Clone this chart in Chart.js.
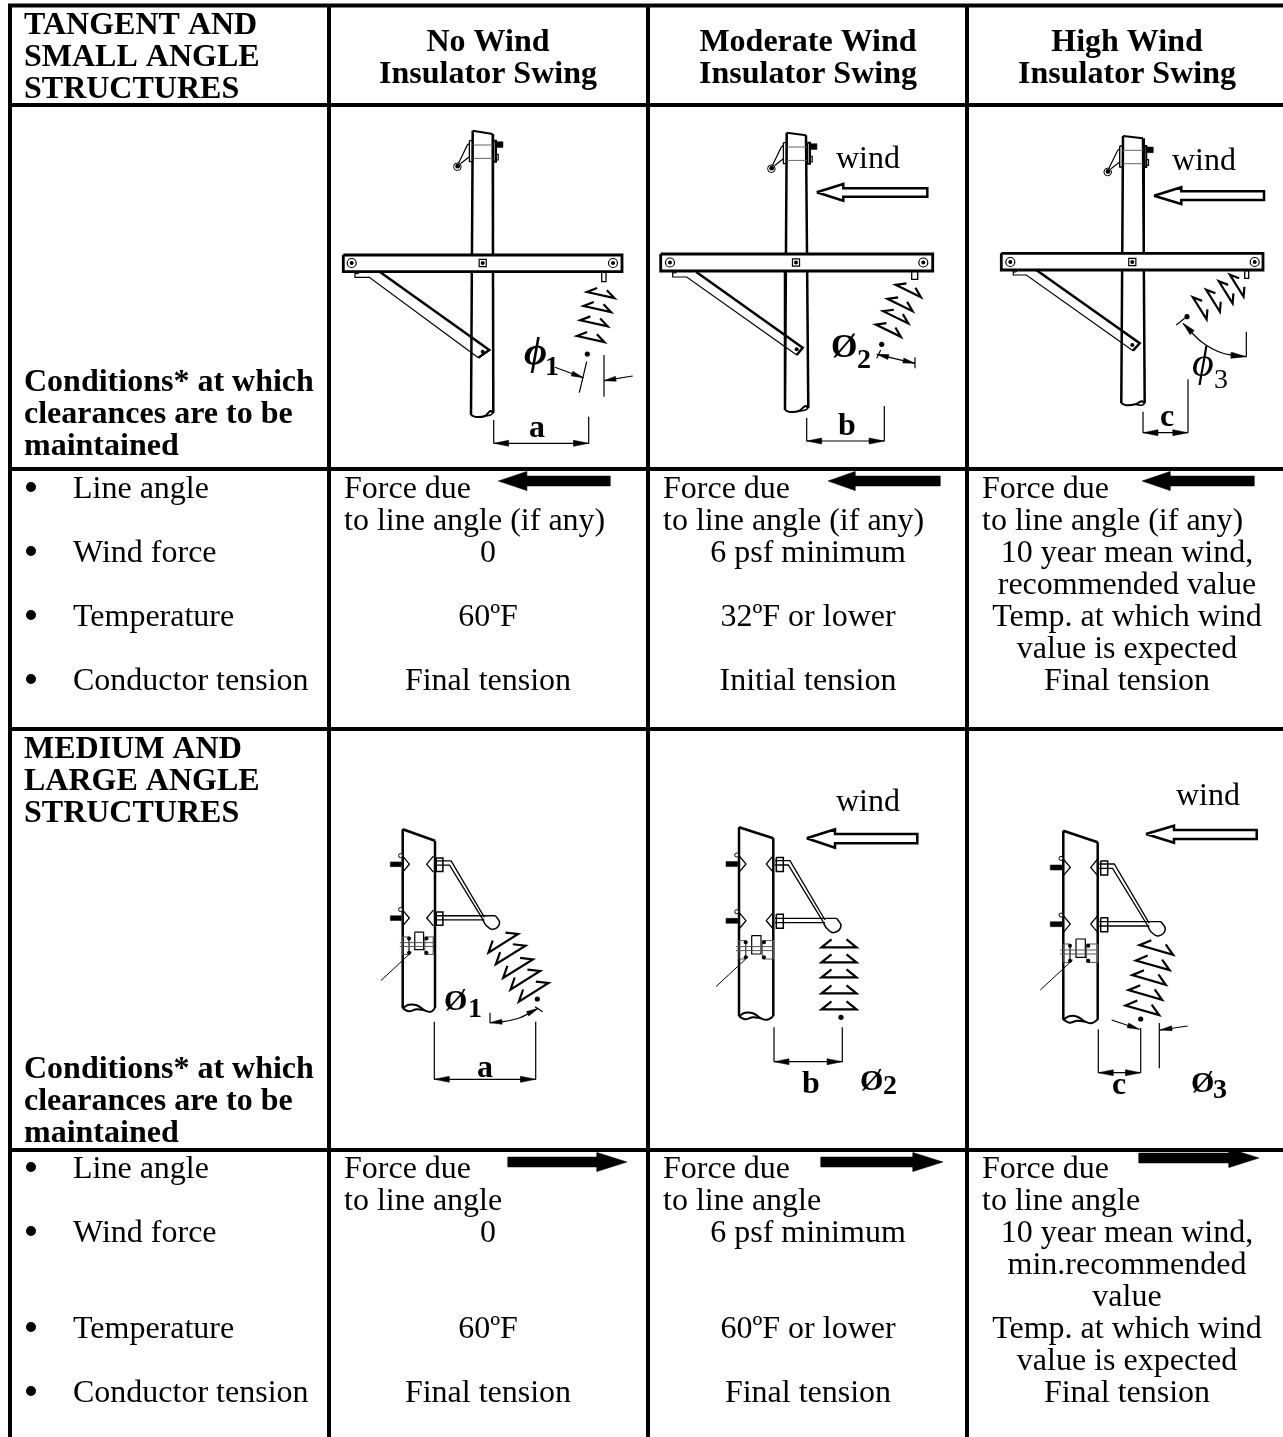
<!DOCTYPE html>
<html>
<head>
<meta charset="utf-8">
<style>
html,body{margin:0;padding:0;background:#fff;}
canvas{display:block;}
</style>
<script src="https://cdn.jsdelivr.net/npm/chart.js@4/dist/chart.umd.min.js"></script>
</head>
<body>
<canvas id="c" width="1283" height="1437"></canvas>
<script>
// table text
const headers = [["No Wind","Insulator Swing"],["Moderate Wind","Insulator Swing"],["High Wind","Insulator Swing"]];
const topTitle = ["TANGENT AND","SMALL ANGLE","STRUCTURES"];
const midTitle = ["MEDIUM AND","LARGE ANGLE","STRUCTURES"];
const condLines = ["Conditions* at which","clearances are to be","maintained"];
const rowNames = ["Line angle","Wind force","Temperature","Conductor tension"];
const forceUpper = ["Force due","to line angle (if any)"];
const forceLower = ["Force due","to line angle"];
const upperCol1 = ["0","60ºF","Final tension"];
const upperCol2 = ["6 psf minimum","32ºF or lower","Initial tension"];
const upperCol3 = ["10 year mean wind,","recommended value","Temp. at which wind","value is expected","Final tension"];
const lowerCol1 = ["0","60ºF","Final tension"];
const lowerCol2 = ["6 psf minimum","60ºF or lower","Final tension"];
const lowerCol3 = ["10 year mean wind,","min.recommended","value","Temp. at which wind","value is expected","Final tension"];

// table rules
const colX = [329,648,967];
const rowY = [105,469,729,1150];
const upperBullets = [487,551,615,679];
const lowerBullets = [1167,1231,1327,1391];

// tangent structures: pole top left, pole top right, pole bottoms
const poleT = [[472.7,130.7,492.7,134,471,415,493.3,413],[786.7,132.7,806,135.3,785,410,808.3,408],[1123,136,1143,138.3,1121.3,403.3,1144.7,403.3]];
const armT = [[343.3,622,255,271.7],[660.7,932.7,254,271],[1001.3,1263,253.3,270]];
const armBolts = [[351.7,482.7,613,263],[670,796,923.3,262.5],[1010.3,1132.3,1254.7,262]];
const braceThick = [[[380,272],[489.3,350],[478.3,357.7]],[[696.3,272],[802.7,347.7],[796.7,355]],[[1036.3,270],[1139.7,343.3],[1133,350.7]]];
const braceThin = [[[478.3,357.7],[369.3,277.3],[355,277.3],[355,272]],[[796.7,355],[686.7,277],[672.7,277],[672.7,272]],[[1133,350.7],[1026.3,275],[1013.3,275],[1013.3,270]]];
const braceBolts = [[482.7,351.7],[796.7,349.3],[1132.3,345]];
const pins = [[601.7,272,606,281.7],[911.7,271,917.7,279.3],[1244.7,270.7,1248.7,278.3]];

// insulator sheds: base centre of each shed, tilt of the string
const shedsT1 = [[600.7,295],[597.3,309],[594,323.3],[590.7,339]];
const shedsT2 = [[908.3,291],[900,305],[895.7,317.3],[888.3,330.7]];
const shedsT3 = [[1236.7,285.7],[1225.7,292.3],[1213,300.7],[1199.7,308.3]];
const shedsM1 = [[503.3,943.3],[510.7,955],[518,968.7],[525.3,980.3],[533.7,992.3]];
const shedsM2 = [[839,947.3],[839,962.3],[839,977.3],[839,993.3],[839,1009.3]];
const shedsM3 = [[1156.3,950],[1152.7,965.3],[1149,980],[1145.3,995],[1142.3,1010.3]];
const stringDots = [[587.3,354],[881.7,344.3],[1187,316.7],[537.3,999],[841,1017.3],[1140.7,1019]];

// medium angle poles: top left, width, drop of top edge, height
const poleM = [[402.7,829.3,32.3,11.4,179],[739,827.3,34.3,11,189],[1063.3,830.7,34.4,11.6,189]];
const hwScaleM = [0.95,1,1];

// wind arrows outlines
const windT2 = [[816.7,192.3],[843.3,184],[843.3,188.3],[927.3,188.3],[927.3,196.7],[843.3,196.7],[843.3,200.7],[816.7,192.3]];
const windT3 = [[1154,195.7],[1181.3,187.3],[1181.3,191.3],[1264,191.3],[1264,200],[1181.3,200],[1181.3,204],[1154,195.7]];
const windM2 = [[806.7,838.3],[835,829.3],[835,834],[917.3,834],[917.3,843.3],[835,843.3],[835,847.7],[806.7,838.3]];
const windM3 = [[1146,834],[1174,825.7],[1174,830],[1256.7,830],[1256.7,839],[1174,839],[1174,842.7],[1146,834]];

// black force arrows: tip, head base, tail, y
const forceLeft = [[498.3,526.7,610,481],[828,855,940,481],[1142,1170,1254,481]];
const forceRight = [[627,597,508,1162],[943,913,821,1162],[1259,1229,1139,1158]];

// dimension lines: left x, left top, right x, right top, y
const dims = [[493.7,420,588.7,416.7,443.3],[806.7,418,884.3,406,441],[1143,411.7,1188,379.3,432.7],[434.3,1021.7,535.7,1021.7,1079.3],[774,1027.3,842.3,1027.3,1061.7],[1098.3,1029.3,1140.7,1028,1072.7]];

const ds = [];
function line(pts,w,extra){
    ds.push(Object.assign({data:pts.map(p=>({x:p[0],y:p[1]})),showLine:true,borderColor:'#000',borderWidth:w||2,pointRadius:0,fill:false,tension:0},extra||{}));
}
function solid(pts){
    ds.push({data:pts.map(p=>({x:p[0],y:p[1]})),showLine:true,borderColor:'#000',borderWidth:0.5,backgroundColor:'#000',pointRadius:0,fill:'shape',tension:0});
}
function dots(pts,r,style,bg,bw){
    ds.push({data:pts.map(p=>({x:p[0],y:p[1]})),showLine:false,pointRadius:r,pointStyle:style||'circle',pointBackgroundColor:bg||'#000',pointBorderColor:'#000',pointBorderWidth:bw||0});
}
function rect(x0,y0,x1,y1){ return [[x0,y0],[x1,y0],[x1,y1],[x0,y1],[x0,y0]]; }
function arrow(tx,ty,fx,fy,len,half){
    len=len||15; half=half||3;
    const a=Math.atan2(fy-ty,fx-tx), bx=tx+Math.cos(a)*len, by=ty+Math.sin(a)*len;
    solid([[tx,ty],[bx-Math.sin(a)*half,by+Math.cos(a)*half],[bx+Math.sin(a)*half,by-Math.cos(a)*half],[tx,ty]]);
}
function sheds(list,deg,half,inset,rise){
    const a=deg*Math.PI/180, c=Math.cos(a), s=Math.sin(a);
    const r=(cx,cy,x,y)=>[cx+x*c-y*s,cy+x*s+y*c];
    list.forEach(p=>{
        line([r(p[0],p[1],-half+inset,-rise),r(p[0],p[1],-half,0),r(p[0],p[1],half,0),r(p[0],p[1],half-inset,-rise)],2.2);
    });
}

// rules
line([[8,5.5],[1283,5.5]],4);
line([[10,5.5],[10,1437]],4);
colX.forEach(x=>line([[x,5.5],[x,1437]],4));
rowY.forEach(y=>line([[8,y],[1283,y]],4));
dots(upperBullets.map(y=>[31,y]),5);
dots(lowerBullets.map(y=>[31,y]),5);

// tangent structures
poleT.forEach((p,i)=>{
    const arm=armT[i], b=armBolts[i];
    const lerpL=(y)=>p[0]+(p[4]-p[0])*(y-p[1])/(p[5]-p[1]);
    const lerpR=(y)=>p[2]+(p[6]-p[2])*(y-p[3])/(p[7]-p[3]);
    line([[p[0],p[1]],[p[2],p[3]]],2);
    line([[p[0],p[1]],[lerpL(arm[2]),arm[2]]],2.5);
    line([[p[2],p[3]],[lerpR(arm[2]),arm[2]]],2.5);
    line([[lerpL(arm[3]),arm[3]],[p[4],p[5]]],2.5);
    line([[lerpR(arm[3]),arm[3]],[p[6],p[7]]],2.5);
    // broken end of pole
    line([[p[4],p[5]],[p[4]+5,p[5]+2],[p[4]+14,p[5]+1],[p[6]-3,p[7]-2],[p[6],p[7]]],2,{tension:0.4});
    line([[p[4]+14,p[5]+1],[p[6]-3,p[7]+2],[p[6],p[7]]],1.5,{tension:0.4});
    // cross arm
    line(rect(arm[0],arm[2],arm[1],arm[3]),2.8);
    dots([[b[0],b[3]],[b[2],b[3]]],4.5,'circle','#fff',1.2);
    dots([[b[0],b[3]],[b[2],b[3]]],2);
    dots([[b[1],b[3]]],5,'rect','#fff',1.2);
    dots([[b[1],b[3]]],2);
    // brace
    line(braceThick[i],2.5);
    line(braceThin[i],1.2);
    dots([braceBolts[i]],2);
    line(rect(arm[0]+12,arm[3],arm[0]+15,arm[3]+2),1);
    const pin=pins[i];
    line(rect(pin[0],pin[1],pin[2],pin[3]),1.3);
    // top bracket and drop wire
    const ox=p[0], oy=p[1];
    const tr=a=>a.map(q=>[ox+q[0],oy+q[1]]);
    line(tr(rect(-3.3,10,0,31)),1.3);
    line(tr(rect(20.7,10,23.3,31)),2);
    line(tr([[0,14.3],[20,14.3]]),1,{borderColor:'#666'});
    line(tr([[0,27.7],[20,27.7]]),1,{borderColor:'#666'});
    solid(tr(rect(23.3,11,30,16.7)));
    line(tr(rect(23.3,23.7,25.5,29.3)),1.2);
    line(tr([[-14.3,32.7],[-5.3,14.3],[-3.3,12.7]]),1.2);
    line(tr([[-12,32.7],[-3.3,26]]),1.2);
    dots(tr([[-15.3,36]]),3.8,'circle','#fff',1);
    dots(tr([[-15,35.5]]),2.4);
});
sheds(shedsT1,12.5,14,9,6);
sheds(shedsT2,26,14,9,6);
sheds(shedsT3,58,13,8,6);

// medium angle structures
poleM.forEach((p,i)=>{
    const ox=p[0], oy=p[1], w=p[2], h=p[4], k=hwScaleM[i];
    const tr=a=>a.map(q=>[ox+q[0]*k,oy+q[1]*k]);
    const abs=a=>a.map(q=>[ox+q[0],oy+q[1]]);
    line(abs([[0,0],[w,p[3]]]),2.5);
    line(abs([[0,0],[0,h]]),2.5);
    line(abs([[w,p[3]],[w,h]]),2.5);
    line(abs([[0,h],[6,h-3.5],[14,h-3],[22,h+2],[28,h+3.5],[w,h]]),2,{tension:0.4});
    line(abs([[0,h],[6,h+3],[14,h+1],[22,h+2]]),2,{tension:0.4});
    [0,56.7].forEach(d=>{
        line(tr([[0,28.3+d],[7,36.7+d],[0,45+d]]),1.3);
        line(tr([[w,28.3+d],[w-7,36.7+d],[w,45+d]]),1.3);
        solid(tr(rect(-13,34.3+d,-1.7,39.3+d)));
        dots(tr([[-2.3,27.7+d]]),2,'circle','#fff',1);
        line(tr(rect(w+3,30.3+d,w+10,44.3+d)),1.5);
    });
    // hook rods
    line(tr([[36,33.3],[51,33.3],[86,92.7]]),1.3);
    line(tr([[36,37.7],[49.3,37.7],[84,94.3]]),1.3);
    line(tr([[36,91],[97.7,91]]),1.3);
    line(tr([[36,95.3],[86,95.3]]),1.3);
    line(tr([[97.7,91],[102,98.7],[95,105.3],[87.7,101],[84,94.3]]),1.5,{tension:0.45});
    // clamp
    line(tr(rect(0,113.3,6.7,131.7)),1,{borderColor:'#555'});
    line(tr(rect(23.3,113.3,w,131.7)),1,{borderColor:'#555'});
    line(tr(rect(12.7,108.3,22,126.7)),1.2);
    line(tr([[-3,119.3],[w,119.3]]),1,{borderColor:'#555'});
    line(tr([[-3,123.3],[w,123.3]]),1,{borderColor:'#555'});
    line(tr([[-23,159.3],[9.3,129.3]]),1);
    dots(tr([[6.7,115],[25,115],[6.7,130],[25,130]]),2);
});
sheds(shedsM1,-32,17.5,10,8);
sheds(shedsM2,0,17.5,10,8);
sheds(shedsM3,16,17.5,10,8);
dots(stringDots,2.6);

// wind arrows
[windT2,windT3,windM2,windM3].forEach(w=>line(w,2.5));

// force arrows
forceLeft.forEach(f=>{
    solid([[f[0],f[3]],[f[1],f[3]-9.5],[f[1],f[3]-5],[f[2],f[3]-5],[f[2],f[3]+5],[f[1],f[3]+5],[f[1],f[3]+9.5],[f[0],f[3]]]);
});
forceRight.forEach(f=>{
    solid([[f[0],f[3]],[f[1],f[3]-9.5],[f[1],f[3]-5],[f[2],f[3]-5],[f[2],f[3]+5],[f[1],f[3]+5],[f[1],f[3]+9.5],[f[0],f[3]]]);
});

// dimension lines
dims.forEach(d=>{
    line([[d[0],d[1]],[d[0],d[4]]],1.2);
    line([[d[2],d[3]],[d[2],d[4]]],1.2);
    line([[d[0],d[4]],[d[2],d[4]]],1.2);
    arrow(d[0],d[4],d[2],d[4]);
    arrow(d[2],d[4],d[0],d[4]);
});

// swing angle marks
line([[586.7,361.7],[579.3,392.7]],1.2);
line([[604,355],[604,396.7]],1.2);
line([[555,367.3],[583.3,377.7]],1.2);
arrow(583.3,377.7,555,367.3,12,2.5);
line([[632.7,376],[604,380.7]],1.2);
arrow(604,380.7,632.7,376,12,2.5);

line([[880.7,350],[876.7,358.3]],1.2);
line([[915,357.3],[915,368.3]],1.2);
line([[876.7,354.3],[915,363.3]],1.2);
arrow(876.7,354.3,915,363.3,12,2.5);
arrow(915,363.3,876.7,354.3,12,2.5);

line([[1246.3,331.7],[1246.3,356.7]],1.2);
line([[1176.3,325],[1184.7,318.3]],1.2);
line([[1183,323.3],[1201.3,341.7],[1223,353.3],[1246.3,356.7]],1.2,{tension:0.3});
arrow(1183,323.3,1201.3,341.7,13,3);
arrow(1246.3,356.7,1223,354.5,15,3);

line([[490,1012.7],[490,1023.3]],1.2);
line([[535,1006.7],[542.7,1011.7]],1.2);
line([[490,1022.7],[503.3,1021.7],[520,1017.7],[538.3,1008.3]],1.2,{tension:0.3});
arrow(490,1022.7,503.3,1021.7,12,2.5);
arrow(538.3,1008.3,520,1017.7,12,2.5);

line([[1159.3,1023],[1159.3,1068.3]],1.2);
line([[1111.7,1020],[1139.3,1029.3]],1.2);
arrow(1139.3,1029.3,1111.7,1020,12,2.5);
line([[1187.7,1026],[1160,1030]],1.2);
arrow(1160,1030,1187.7,1026,12,2.5);

// every text string goes out through here
const labels = [];
function put(t,x,y,o){ labels.push(Object.assign({t:t,x:x,y:y,bold:false,italic:false,align:'left',size:32},o||{})); }

const B = {bold:true};
const BC = {bold:true,align:'center'};
const C = {align:'center'};
topTitle.forEach((t,i)=>put(t,24,34+32*i,B));
midTitle.forEach((t,i)=>put(t,24,758+32*i,B));
condLines.forEach((t,i)=>put(t,24,391+32*i,B));
condLines.forEach((t,i)=>put(t,24,1078+32*i,B));
const colC = [488,808,1127], colL = [344,663,982];
headers.forEach((h,i)=>{ put(h[0],colC[i],51,BC); put(h[1],colC[i],83,BC); });
rowNames.forEach((t,i)=>put(t,73,498+64*i));
[1178,1242,1338,1402].forEach((y,i)=>put(rowNames[i],73,y));
colL.forEach(x=>{
    put(forceUpper[0],x,498); put(forceUpper[1],x,530);
    put(forceLower[0],x,1178); put(forceLower[1],x,1210);
});
[562,626,690].forEach((y,i)=>{ put(upperCol1[i],488,y,C); put(upperCol2[i],808,y,C); });
[562,594,626,658,690].forEach((y,i)=>put(upperCol3[i],1127,y,C));
[1242,1338,1402].forEach((y,i)=>{ put(lowerCol1[i],488,y,C); put(lowerCol2[i],808,y,C); });
[1242,1274,1306,1338,1370,1402].forEach((y,i)=>put(lowerCol3[i],1127,y,C));

put("wind",836,168); put("wind",1172,170); put("wind",836,811); put("wind",1176,805);
put("a",529,437,B); put("b",838,435,B); put("c",1160,426,B);
put("a",477,1077,B); put("b",802,1093,B); put("c",1112,1094,B);
put("ϕ",524,364,{bold:true,italic:true,size:40}); put("1",545,375,{bold:true,size:28});
put("Ø",831,357,{bold:true,size:34}); put("2",857,368,{bold:true,size:28});
put("ϕ",1192,376,{italic:true,size:42}); put("3",1214,388,{size:28});
put("Ø",444,1010,{bold:true,size:30}); put("1",468,1017,{bold:true,size:28});
put("Ø",860,1090,{bold:true,size:30}); put("2",883,1094,{bold:true,size:28});
put("Ø",1191,1092,{bold:true,size:30}); put("3",1213,1098,{bold:true,size:28});

const textPlugin = {
    id:'tableText',
    afterDatasetsDraw(chart){
        const ctx=chart.ctx, sx=chart.scales.x, sy=chart.scales.y;
        ctx.save();
        ctx.fillStyle='#000';
        ctx.textBaseline='alphabetic';
        labels.forEach(l=>{
            ctx.font=(l.italic?'italic ':'')+(l.bold?'bold ':'')+l.size+'px "Liberation Serif"';
            ctx.textAlign=l.align;
            ctx.fillText(l.t,sx.getPixelForValue(l.x),sy.getPixelForValue(l.y));
        });
        ctx.restore();
    }
};

// later datasets paint on top
ds.forEach((d,i)=>{ d.order=-i; });

new Chart(document.getElementById('c').getContext('2d'),{
    type:'scatter',
    data:{datasets:ds},
    options:{
        responsive:false,
        animation:false,
        layout:{padding:0,autoPadding:false},
        plugins:{legend:{display:false},tooltip:{enabled:false}},
        scales:{
            x:{type:'linear',min:0,max:1283,display:false},
            y:{type:'linear',min:0,max:1437,reverse:true,display:false}
        }
    },
    plugins:[textPlugin]
});
</script>
</body>
</html>
